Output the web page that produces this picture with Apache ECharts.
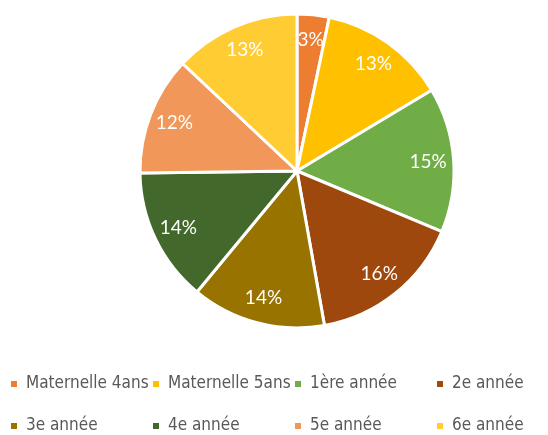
<!DOCTYPE html>
<html>
<head>
<meta charset="utf-8">
<script src="https://cdn.jsdelivr.net/npm/echarts@6/dist/echarts.min.js"></script>
<style>
  html, body { margin: 0; padding: 0; background: #fff; }
  #chart { width: 548px; height: 435px; }
</style>
</head>
<body>
<div id="chart"></div>
<script>
const categories = ["Maternelle 4ans", "Maternelle 5ans", "1ère année", "2e année",
  "3e année", "4e année", "5e année", "6e année"];
const shares = [3.3, 13.1, 14.9, 15.9, 13.8, 13.8, 12.2, 13.0];
const colors = ["#ED7D31", "#FFC000", "#70AD47", "#9E480E",
  "#997300", "#43682B", "#F1975A", "#FFCD33"];

const chart = echarts.init(document.getElementById("chart"));

const data = categories.map((name, i) => ({
  name: name,
  value: shares[i],
  itemStyle: { color: colors[i] }
}));

// one legend per entry so the columns line up like the original grid
const legends = categories.map((name, i) => ({
  data: [name],
  left: 4 + (i % 4) * 142,
  top: i < 4 ? 369 : 411,
  itemWidth: 8, itemHeight: 8,
  icon: "rect",
  selectedMode: false,
  textStyle: {
    fontFamily: "'Liberation Sans Narrow', 'DejaVu Sans Condensed', sans-serif",
    fontSize: 17,
    lineHeight: 20,
    color: "#595959",
    padding: [0, 0, 0, 3]
  }
}));

const option = {
  animation: false,
  legend: legends,
  series: [
    {
      type: "pie",
      center: [297, 171],
      radius: 157,
      startAngle: 90,
      clockwise: true,
      data: data,
      label: { show: false },
      labelLine: { show: false },
      itemStyle: { borderColor: "#fff", borderWidth: 3 },
      emphasis: { disabled: true }
    },
    {
      // transparent ring used only to place the labels at ~0.82 radius
      type: "pie",
      center: [297, 171],
      radius: [100, 157],
      startAngle: 90,
      clockwise: true,
      silent: true,
      percentPrecision: 0,
      data: data.map(d => ({ name: d.name, value: d.value })),
      itemStyle: { color: "rgba(0,0,0,0)" },
      label: {
        show: true,
        position: "inside",
        formatter: "{d}%",
        color: "#fff",
        fontFamily: "Lato, 'Open Sans', sans-serif",
        fontSize: 19
      },
      labelLine: { show: false },
      emphasis: { disabled: true }
    }
  ]
};

chart.setOption(option);
</script>
</body>
</html>
